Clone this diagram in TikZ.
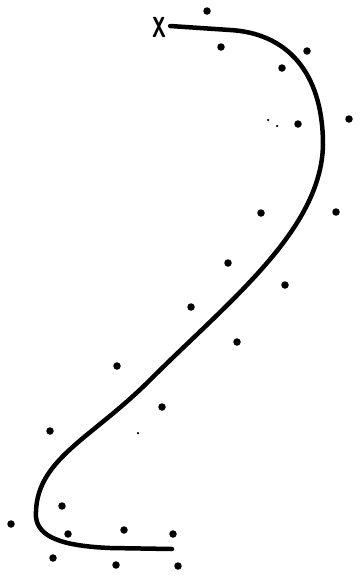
\documentclass[tikz,border=0pt]{standalone}
\usepackage{tikz}
\usetikzlibrary{shapes,positioning}

\begin{document}
\begin{tikzpicture}[
    x=1pt, y=-1pt,
    dot/.style={circle, fill=black, inner sep=0pt, minimum size=7.5pt},
    speck/.style={circle, fill=black, inner sep=0pt, minimum size=2.5pt},
    mark label/.style={font=\sffamily\bfseries\fontsize{20}{20}\selectfont, inner sep=0pt},
    track/.style={line width=4.5pt, line cap=round, line join=round}
]
\useasboundingbox (0,0) rectangle (360,581);

% Start marker
\node[mark label] (start) at (159,27) {\scalebox{0.95}[1.45]{X}};

% Curve
\draw[track] ([xshift=4pt,yshift=1pt]start.east) -- (230,30)
    .. controls (285,33) and (323,70) .. (323,145)
    .. controls (321,230) and (230,300) .. (150,380)
    .. controls (90,440) and (34,460) .. (36,517)
    .. controls (38,537) and (62,546) .. (110,548)
    -- (172,549) coordinate (finish);

% Scattered points
\node[dot] (p1) at (207,11) {};
\node[dot] (p2) at (221,47) {};
\node[dot] (p3) at (307,51) {};
\node[dot] (p4) at (282,68) {};
\node[dot] (p5) at (298,124) {};
\node[dot] (p6) at (349,119) {};
\node[dot] (p7) at (261,213) {};
\node[dot] (p8) at (336,212) {};
\node[dot] (p9) at (228,263) {};
\node[dot] (p10) at (285,285) {};
\node[dot] (p11) at (191,307) {};
\node[dot] (p12) at (237,342) {};
\node[dot] (p13) at (117,366) {};
\node[dot] (p14) at (162,407) {};
\node[dot] (p15) at (50,431) {};
\node[dot] (p16) at (62,506) {};
\node[dot] (p17) at (11,524) {};
\node[dot] (p18) at (68,534) {};
\node[dot] (p19) at (124,530) {};
\node[dot] (p20) at (173,534) {};
\node[dot] (p21) at (53,558) {};
\node[dot] (p22) at (116,565) {};
\node[dot] (p23) at (178,566) {};

% Small specks
\node[speck] (s1) at (138,433) {};
\node[speck] (s2) at (268,120) {};
\node[speck] (s3) at (277,126) {};

\end{tikzpicture}
\end{document}
